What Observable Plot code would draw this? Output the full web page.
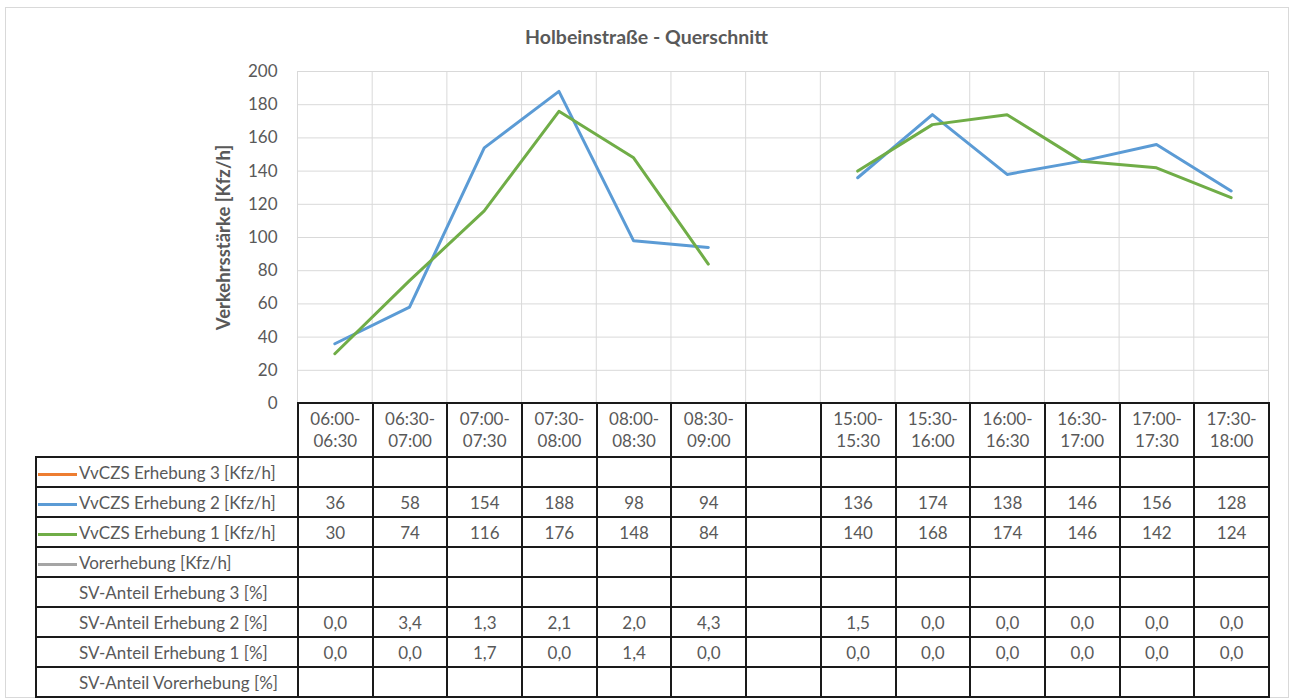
<!DOCTYPE html>
<html><head><meta charset="utf-8">
<script src="https://cdn.jsdelivr.net/npm/d3@7"></script>
<script src="https://cdn.jsdelivr.net/npm/@observablehq/plot@0.6"></script>
<style>
body{margin:0;background:#fff;font-family:Lato,sans-serif;}
#wrap{position:relative;width:1293px;height:700px;overflow:hidden}
#frame{position:absolute;left:5px;top:7px;width:1284px;height:691px;border:1px solid #d9d9d9;box-sizing:border-box}
#title{position:absolute;top:25px;left:0;width:1293px;text-align:center;font-weight:bold;font-size:19.5px;color:#595959}
#chart{position:absolute;left:0;top:0}
table{position:absolute;left:35px;top:402px;border-collapse:collapse;table-layout:fixed;color:#595959;font-size:17px;font-family:Lato,sans-serif}
td{border:2px solid #1a1a1a;text-align:center;padding:0;white-space:nowrap;overflow:hidden}
tr.head td{height:52px;line-height:22px}
tr.head td.blank{border:none}
tr.body td{height:28px}
td.lab{text-align:left;padding-left:1px}
.key{display:inline-block;width:39px;height:3px;vertical-align:middle;margin-right:2px}
.nokey{display:inline-block;width:41px}
</style>
</head><body>
<div id="wrap">
  <div id="frame"></div>
  <div id="chart"></div>
  <div id="title"></div>
</div>
<script>
const title = "Holbeinstraße - Querschnitt";
const yLabel = "Verkehrsstärke [Kfz/h]";
const categories = ["06:00-06:30","06:30-07:00","07:00-07:30","07:30-08:00","08:00-08:30","08:30-09:00","",
  "15:00-15:30","15:30-16:00","16:00-16:30","16:30-17:00","17:00-17:30","17:30-18:00"];
const yTicks = [0,20,40,60,80,100,120,140,160,180,200];
const erhebung3 = [null,null,null,null,null,null,null,null,null,null,null,null,null];
const erhebung2 = [36,58,154,188,98,94,null,136,174,138,146,156,128];
const erhebung1 = [30,74,116,176,148,84,null,140,168,174,146,142,124];
const vorerhebung = [null,null,null,null,null,null,null,null,null,null,null,null,null];
const sv3 = [null,null,null,null,null,null,null,null,null,null,null,null,null];
const sv2 = [0.0,3.4,1.3,2.1,2.0,4.3,null,1.5,0.0,0.0,0.0,0.0,0.0];
const sv1 = [0.0,0.0,1.7,0.0,1.4,0.0,null,0.0,0.0,0.0,0.0,0.0,0.0];
const svVor = [null,null,null,null,null,null,null,null,null,null,null,null,null];

const seriesNames = ["VvCZS Erhebung 3 [Kfz/h]","VvCZS Erhebung 2 [Kfz/h]","VvCZS Erhebung 1 [Kfz/h]","Vorerhebung [Kfz/h]"];
const seriesColors = ["#ED7D31","#5B9BD5","#70AD47","#A5A5A5"];
const seriesValues = [erhebung3, erhebung2, erhebung1, vorerhebung];
const svNames = ["SV-Anteil Erhebung 3 [%]","SV-Anteil Erhebung 2 [%]","SV-Anteil Erhebung 1 [%]","SV-Anteil Vorerhebung [%]"];
const svValues = [sv3, sv2, sv1, svVor];

document.getElementById("title").textContent = title;

const n = categories.length;
const lineData = [];
seriesValues.forEach((vals, s) => vals.forEach((v, i) => lineData.push({series: seriesNames[s], color: seriesColors[s], i: i + 0.5, v})));

const chart = Plot.plot({
  width: 1293, height: 700,
  marginLeft: 297, marginRight: 25, marginTop: 71, marginBottom: 297,
  style: {fontFamily: "Lato, sans-serif", fontSize: "17px", color: "#595959", background: "none"},
  x: {domain: [0, n], axis: null},
  y: {domain: [0, 200], axis: null},
  marks: [
    Plot.ruleY(yTicks, {stroke: "#d9d9d9", strokeWidth: 1}),
    Plot.ruleX(d3.range(n + 1), {stroke: "#d9d9d9", strokeWidth: 1}),
    Plot.axisY({ticks: yTicks, tickSize: 0, tickPadding: 20, label: null, fill: "#595959", fontSize: 17}),
    Plot.text([yLabel], {frameAnchor: "left", textAnchor: "middle", rotate: -90, dx: -73, fontWeight: "bold", fill: "#595959", fontSize: 18.5}),
    Plot.line(lineData, {x: "i", y: "v", z: "series", stroke: "color", strokeWidth: 3})
  ]
});
document.getElementById("chart").appendChild(chart);

const xs = chart.scale("x");
const colW = xs.apply(1) - xs.apply(0);
const labW = xs.apply(0) - 35;

const table = document.createElement("table");
const cg = document.createElement("colgroup");
const c0 = document.createElement("col"); c0.style.width = labW + "px"; cg.appendChild(c0);
for (let i = 0; i < n; i++) { const c = document.createElement("col"); c.style.width = colW + "px"; cg.appendChild(c); }
table.appendChild(cg);
table.style.width = (labW + colW * n) + "px";

const head = document.createElement("tr"); head.className = "head";
const hb = document.createElement("td"); hb.className = "blank"; head.appendChild(hb);
categories.forEach(c => {
  const td = document.createElement("td");
  if (c) { const k = c.indexOf("-"); td.innerHTML = c.slice(0, k + 1) + "<br>" + c.slice(k + 1); }
  head.appendChild(td);
});
table.appendChild(head);

function addRow(label, color, vals, fmt) {
  const tr = document.createElement("tr"); tr.className = "body";
  const td0 = document.createElement("td"); td0.className = "lab";
  const key = document.createElement("span");
  if (color) { key.className = "key"; key.style.background = color; } else key.className = "nokey";
  td0.appendChild(key);
  td0.appendChild(document.createTextNode(label));
  tr.appendChild(td0);
  vals.forEach(v => { const td = document.createElement("td"); td.textContent = v == null ? "" : fmt(v); tr.appendChild(td); });
  table.appendChild(tr);
}
seriesNames.forEach((s, k) => addRow(s, seriesColors[k], seriesValues[k], v => String(v)));
svNames.forEach((s, k) => addRow(s, null, svValues[k], v => v.toFixed(1).replace(".", ",")));
document.getElementById("wrap").appendChild(table);
</script>
</body></html>
